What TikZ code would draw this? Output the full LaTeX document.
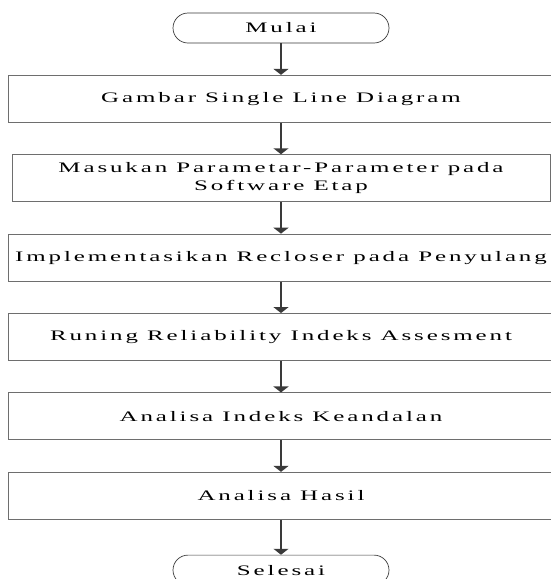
\documentclass[tikz,border=0pt]{standalone}
\usepackage{fontspec}
\setmainfont[FakeStretch=1.72,LetterSpace=20]{Liberation Serif}
\usepackage{tikz}
\usetikzlibrary{arrows.meta,positioning}
\definecolor{edge}{HTML}{6E6E6E}
\definecolor{stem}{HTML}{3A3A3A}

\begin{document}
\begin{tikzpicture}[
  x=1pt,y=1pt,
  node distance=31.5pt,
  box/.style={draw=edge,line width=0.9pt,minimum width=546pt,minimum height=47pt,inner sep=0pt,align=center,font=\fontsize{14.5}{17.5}\selectfont},
  term/.style={draw=stem,line width=0.7pt,rounded corners=15pt,minimum width=216pt,minimum height=30pt,inner sep=0pt,font=\fontsize{14.5}{17.5}\selectfont},
  arr/.style={-{Triangle[width=15pt,length=6pt]},draw=stem,line width=1.5pt}
]
\useasboundingbox (0,0) rectangle (550,-579);
\node[term] (start) at (281,-28) {Mulai};
\node[box,below=of start] (sld) {Gambar Single Line Diagram};
\node[box,minimum width=538pt,below=of sld] (param) {Masukan Parametar-Parameter pada\\Software Etap};
\node[box,below=of param] (recl) {Implementasikan Recloser pada Penyulang};
\node[box,below=of recl] (run) {Runing Reliability Indeks Assesment};
\node[box,below=of run] (idx) {Analisa Indeks Keandalan};
\node[box,below=of idx] (hasil) {Analisa Hasil};
\node[term,below=35pt of hasil] (stop) {Selesai};
\draw[arr] (start) -- (sld);
\draw[arr] (sld) -- (param);
\draw[arr] (param) -- (recl);
\draw[arr] (recl) -- (run);
\draw[arr] (run) -- (idx);
\draw[arr] (idx) -- (hasil);
\draw[arr] (hasil) -- (stop);
\end{tikzpicture}
\end{document}
